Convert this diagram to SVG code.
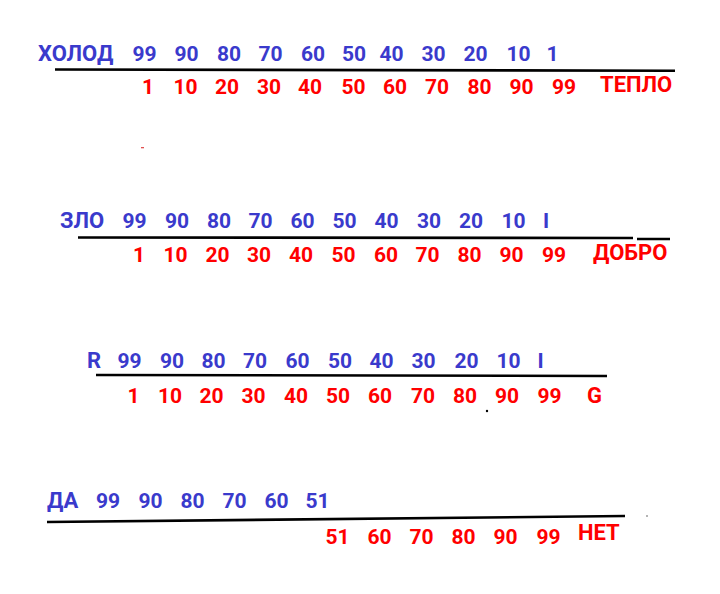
<svg xmlns="http://www.w3.org/2000/svg" width="720" height="594" viewBox="0 0 720 594">
<style>
text{font-family:Roboto,"Liberation Sans",sans-serif;font-weight:bold;font-size:21px}
.b{fill:#3a3acc;text-anchor:middle}
.r{fill:#ff0000;text-anchor:middle}
.bl{fill:#3a3acc;font-size:22px}
.rl{fill:#ff0000;font-size:22px}
.ln{stroke:#000;stroke-width:2.6;fill:none}
</style>
<rect width="720" height="594" fill="#fff"/>
<g id="row1">
<text class="bl" x="38" y="61">ХОЛОД</text>
<text class="b" x="144.5" y="61">99</text><text class="b" x="186.5" y="61">90</text><text class="b" x="229" y="61">80</text><text class="b" x="270.5" y="61">70</text><text class="b" x="313" y="61">60</text><text class="b" x="354" y="61">50</text><text class="b" x="391.5" y="61">40</text><text class="b" x="433.5" y="61">30</text><text class="b" x="475.5" y="61">20</text><text class="b" x="518.5" y="61">10</text><text class="b" x="552.5" y="61">1</text>
<path class="ln" d="M55 69.5 L675 70.7"/>
<text class="r" x="148" y="94">1</text><text class="r" x="185.5" y="94">10</text><text class="r" x="227" y="94">20</text><text class="r" x="269" y="94">30</text><text class="r" x="310" y="94">40</text><text class="r" x="353.5" y="94">50</text><text class="r" x="395" y="94">60</text><text class="r" x="437" y="94">70</text><text class="r" x="479.5" y="94">80</text><text class="r" x="521.5" y="94">90</text><text class="r" x="564" y="94">99</text>
<text class="rl" x="600" y="92">ТЕПЛО</text>
</g>
<g id="row2">
<text class="bl" x="60" y="228">ЗЛО</text>
<text class="b" x="134.5" y="228">99</text><text class="b" x="177" y="228">90</text><text class="b" x="219" y="228">80</text><text class="b" x="260.5" y="228">70</text><text class="b" x="302.5" y="228">60</text><text class="b" x="344.5" y="228">50</text><text class="b" x="386.5" y="228">40</text><text class="b" x="429" y="228">30</text><text class="b" x="471" y="228">20</text><text class="b" x="513.5" y="228">10</text><text class="b" x="546" y="228">I</text>
<path class="ln" d="M78 237.5 L633 238"/>
<path class="ln" d="M637 239 L670 239"/>
<text class="r" x="139" y="262">1</text><text class="r" x="175.5" y="262">10</text><text class="r" x="217.5" y="262">20</text><text class="r" x="259" y="262">30</text><text class="r" x="301" y="262">40</text><text class="r" x="343.5" y="262">50</text><text class="r" x="386" y="262">60</text><text class="r" x="427.5" y="262">70</text><text class="r" x="469.5" y="262">80</text><text class="r" x="511.5" y="262">90</text><text class="r" x="554" y="262">99</text>
<text class="rl" x="593" y="260">ДОБРО</text>
</g>
<g id="row3">
<text class="bl" x="87" y="368">R</text>
<text class="b" x="129.5" y="368">99</text><text class="b" x="172" y="368">90</text><text class="b" x="213.5" y="368">80</text><text class="b" x="255" y="368">70</text><text class="b" x="297.5" y="368">60</text><text class="b" x="340" y="368">50</text><text class="b" x="381.5" y="368">40</text><text class="b" x="423.5" y="368">30</text><text class="b" x="466.5" y="368">20</text><text class="b" x="508.5" y="368">10</text><text class="b" x="540.5" y="368">I</text>
<path class="ln" d="M96 375 L607 376"/>
<text class="r" x="133.5" y="403">1</text><text class="r" x="170" y="403">10</text><text class="r" x="211.5" y="403">20</text><text class="r" x="253.5" y="403">30</text><text class="r" x="296" y="403">40</text><text class="r" x="338" y="403">50</text><text class="r" x="380" y="403">60</text><text class="r" x="423" y="403">70</text><text class="r" x="465" y="403">80</text><text class="r" x="507" y="403">90</text><text class="r" x="549.5" y="403">99</text>
<text class="rl" x="587" y="403">G</text>
<circle cx="487" cy="411" r="1.2" fill="#000"/>
</g>
<g id="row4">
<text class="bl" x="47" y="508">ДА</text>
<text class="b" x="108" y="508">99</text><text class="b" x="150.5" y="508">90</text><text class="b" x="192.5" y="508">80</text><text class="b" x="234.5" y="508">70</text><text class="b" x="276.5" y="508">60</text><text class="b" x="317.5" y="508">51</text>
<path class="ln" d="M47 522 L625 516"/>
<text class="r" x="337.5" y="544">51</text><text class="r" x="379.5" y="544">60</text><text class="r" x="421.5" y="544">70</text><text class="r" x="463.5" y="544">80</text><text class="r" x="505.5" y="544">90</text><text class="r" x="548.5" y="544">99</text>
<text class="rl" x="578" y="540">НЕТ</text>
<circle cx="647" cy="516" r="0.8" fill="#555"/>
</g>
<rect x="141" y="147" width="3" height="1.3" fill="#e05050"/>
</svg>
